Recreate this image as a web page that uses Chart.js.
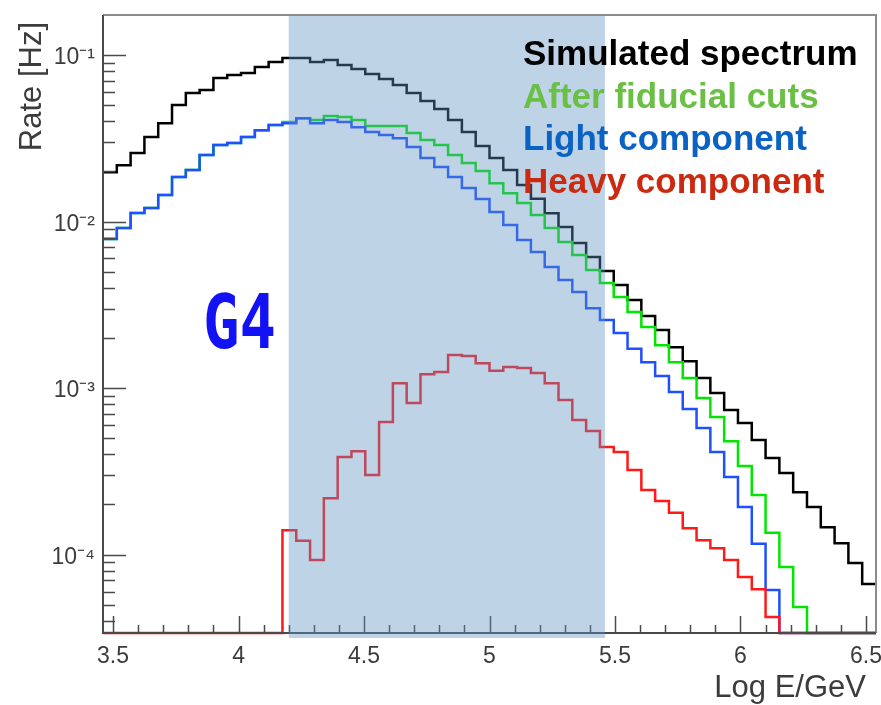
<!DOCTYPE html>
<html>
<head>
<meta charset="utf-8">
<script src="https://cdn.jsdelivr.net/npm/chart.js@4.4.1/dist/chart.umd.min.js"></script>
<style>
  html, body { margin: 0; padding: 0; background: #fff; }
  #wrap { width: 881px; height: 705px; position: relative; }
</style>
</head>
<body>
<div id="wrap"><canvas id="spectrum"></canvas></div>
<script>
// histogram binning in log10(E/GeV)
const binLow = 3.46;
const binWidth = 0.055;

// rates in Hz, one value per bin (0 = empty bin)
const simulated = [
  0.0198, 0.0218, 0.0258, 0.0322, 0.0390, 0.0501, 0.0591, 0.0616, 0.0727, 0.0758,
  0.0780, 0.0847, 0.0908, 0.0959, 0.0959, 0.0908, 0.0933, 0.0871, 0.0824, 0.0769,
  0.0718, 0.0661, 0.0591, 0.0529, 0.0474, 0.0407, 0.0345, 0.0284, 0.0241, 0.0204,
  0.0166, 0.0137, 0.0112, 0.00927, 0.00743, 0.00612, 0.00504, 0.00416, 0.00338, 0.00271,
  0.00223, 0.00176, 0.00145, 0.00115, 0.000933, 0.000738, 0.000616, 0.000487, 0.000380, 0.000309,
  0.000237, 0.000193, 0.000146, 0.000117, 0.0000889, 0.0000665
];
const fiducial = [
  0.00785, 0.00914, 0.01125, 0.01206, 0.01443, 0.01851, 0.02038, 0.02507, 0.0288, 0.0296,
  0.0322, 0.0354, 0.0380, 0.0396, 0.0418, 0.0407, 0.0430, 0.0424, 0.0407, 0.0375,
  0.0375, 0.0375, 0.0340, 0.0309, 0.0288, 0.0251, 0.0225, 0.0201, 0.0170, 0.0148,
  0.01292, 0.01094, 0.00914, 0.00753, 0.00629, 0.00511, 0.00427, 0.00352, 0.00286, 0.00233,
  0.00181, 0.00143, 0.00115, 0.000871, 0.000670, 0.000480, 0.000340, 0.000228, 0.000135, 0.0000841,
  0.0000484, 0, 0, 0, 0, 0
];
const light = [
  0.00785, 0.00914, 0.01125, 0.01206, 0.01443, 0.01851, 0.02038, 0.02507, 0.0288, 0.0296,
  0.0322, 0.0354, 0.0380, 0.0390, 0.0418, 0.0390, 0.0407, 0.0396, 0.0369, 0.0345,
  0.0331, 0.0317, 0.0280, 0.0241, 0.0213, 0.0185, 0.0159, 0.01365, 0.01141, 0.00953,
  0.00774, 0.00656, 0.00533, 0.00445, 0.00377, 0.00302, 0.00256, 0.00214, 0.00172, 0.00143,
  0.00118, 0.000946, 0.000748, 0.000575, 0.000413, 0.000292, 0.000193, 0.000116, 0.0000612, 0,
  0, 0, 0, 0, 0, 0
];
const heavy = [
  0, 0, 0, 0, 0, 0, 0, 0, 0, 0,
  0, 0, 0, 0.000140, 0.000121, 0.0000927, 0.000218, 0.000385, 0.000418, 0.000300,
  0.000625, 0.00107, 0.000813, 0.00121, 0.00125, 0.00158, 0.00156, 0.00141, 0.00127, 0.00134,
  0.00132, 0.00123, 0.00107, 0.000847, 0.000643, 0.000552, 0.000442, 0.000413, 0.000322, 0.000244,
  0.000210, 0.000178, 0.000144, 0.000122, 0.000109, 0.0000927, 0.0000732, 0.0000620, 0.0000421, 0,
  0, 0, 0, 0, 0, 0
];

const xTickValues = [3.5, 4, 4.5, 5, 5.5, 6, 6.5];
const xTickLabels = ['3.5', '4', '4.5', '5', '5.5', '6', '6.5'];
const yTickValues = [1e-4, 1e-3, 1e-2, 1e-1];
const yTickLabels = ['10⁻⁴', '10⁻³', '10⁻²', '10⁻¹'];

const legendNames = ['Simulated spectrum', 'After fiducial cuts', 'Light component', 'Heavy component'];
const g4Band = [4.2, 5.46];

const xRange = [3.46, 6.54];
const yRange = [3.38e-5, 0.174];

const FONT = '"Liberation Sans", Arial, Helvetica, sans-serif';
const AXIS_GREY = '#3c3c3c';

// ROOT-style outline: every bin from its low edge, empty bins on the axis floor
function histPoints(vals) {
  const pts = vals.map((v, i) => ({ x: binLow + i * binWidth, y: v > 0 ? v : yRange[0] }));
  pts.push({ x: binLow + vals.length * binWidth, y: pts[pts.length - 1].y });
  return pts;
}

function histSet(label, vals, color, order) {
  return {
    label,
    data: histPoints(vals),
    borderColor: color,
    borderWidth: 2.5,
    stepped: 'before',
    pointRadius: 0,
    fill: false,
    clip: false,
    order
  };
}

const decorations = {
  id: 'decorations',
  afterDatasetsDraw(chart) {
    const { ctx, chartArea: a, scales: { x, y } } = chart;
    ctx.save();

    // frame
    ctx.lineWidth = 2;
    ctx.strokeStyle = '#8c8c8c';
    ctx.beginPath();
    ctx.moveTo(a.left, a.top);
    ctx.lineTo(a.right, a.top);
    ctx.lineTo(a.right, a.bottom);
    ctx.stroke();
    ctx.strokeStyle = '#4a4a4a';
    ctx.beginPath();
    ctx.moveTo(a.left, a.top);
    ctx.lineTo(a.left, a.bottom);
    ctx.lineTo(a.right, a.bottom);
    ctx.stroke();

    // tick marks, drawn inside the frame
    ctx.lineWidth = 1.5;
    ctx.beginPath();
    for (let e = -5; e <= -1; e++) {
      for (let m = 1; m <= 9; m++) {
        const v = m * Math.pow(10, e);
        if (v < yRange[0] || v > yRange[1]) continue;
        const py = Math.round(y.getPixelForValue(v)) + 0.5;
        ctx.moveTo(a.left, py);
        ctx.lineTo(a.left + (m === 1 ? 23 : 12), py);
      }
    }
    for (let k = 35; k <= 65; k++) {
      const px = Math.round(x.getPixelForValue(k / 10)) + 0.5;
      ctx.moveTo(px, a.bottom);
      ctx.lineTo(px, a.bottom - (k % 5 === 0 ? 17 : 8));
    }
    ctx.stroke();

    // translucent band laid over the curves
    const bx0 = x.getPixelForValue(g4Band[0]);
    const bx1 = x.getPixelForValue(g4Band[1]);
    ctx.fillStyle = 'rgba(93,145,193,0.4)';
    ctx.fillRect(bx0, a.top, bx1 - bx0, a.bottom - a.top + 5);
    ctx.restore();
  },
  afterDraw(chart) {
    const { ctx } = chart;
    ctx.save();

    // legend text
    const colors = ['#000000', '#6abf45', '#0a63c4', '#cc2a10'];
    ctx.font = 'bold 35px ' + FONT;
    ctx.textAlign = 'left';
    ctx.textBaseline = 'alphabetic';
    legendNames.forEach((t, i) => {
      ctx.fillStyle = colors[i];
      ctx.fillText(t, 523, 65 + i * 42.7);
    });

    // G4 tag
    ctx.save();
    ctx.translate(203, 348);
    ctx.scale(0.82, 1);
    ctx.font = 'bold 74px "DejaVu Sans Mono", monospace';
    ctx.fillStyle = '#1212f5';
    ctx.fillText('G4', 0, 0);
    ctx.restore();

    // axis titles
    ctx.font = '31px ' + FONT;
    ctx.fillStyle = AXIS_GREY;
    ctx.textAlign = 'right';
    ctx.fillText('Log E/GeV', 866, 697);
    ctx.translate(41, 22);
    ctx.rotate(-Math.PI / 2);
    ctx.fillText('Rate [Hz]', 0, 0);
    ctx.restore();
  }
};

new Chart(document.getElementById('spectrum'), {
  type: 'line',
  data: {
    datasets: [
      histSet(legendNames[0], simulated, '#000000', 4),
      histSet(legendNames[1], fiducial, '#00e600', 3),
      histSet(legendNames[2], light, '#1f4fff', 2),
      histSet(legendNames[3], heavy, '#ff1a1a', 1)
    ]
  },
  options: {
    responsive: true,
    maintainAspectRatio: false,
    animation: false,
    layout: { padding: { top: 15, right: 5, left: 0, bottom: 0 } },
    plugins: {
      legend: { display: false },
      tooltip: { enabled: false }
    },
    scales: {
      x: {
        type: 'linear',
        min: xRange[0],
        max: xRange[1],
        grid: { display: false, drawTicks: false },
        border: { display: false },
        afterBuildTicks: s => { s.ticks = xTickValues.map(value => ({ value })); },
        afterFit: s => { s.height = 72; s.paddingLeft = 0; s.paddingRight = 0; },
        ticks: {
          autoSkip: false,
          maxRotation: 0,
          padding: 10,
          color: AXIS_GREY,
          font: { family: FONT, size: 23 },
          callback: (v, i) => xTickLabels[i]
        }
      },
      y: {
        type: 'logarithmic',
        min: yRange[0],
        max: yRange[1],
        grid: { display: false, drawTicks: false },
        border: { display: false },
        afterBuildTicks: s => { s.ticks = yTickValues.map(value => ({ value, major: true })); },
        afterFit: s => { s.width = 103; s.paddingTop = 0; s.paddingBottom = 0; },
        ticks: {
          autoSkip: false,
          padding: 8,
          labelOffset: 3,
          color: AXIS_GREY,
          font: { family: FONT, size: 23 },
          callback: (v, i) => yTickLabels[i]
        }
      }
    }
  },
  plugins: [decorations]
});
</script>
</body>
</html>
